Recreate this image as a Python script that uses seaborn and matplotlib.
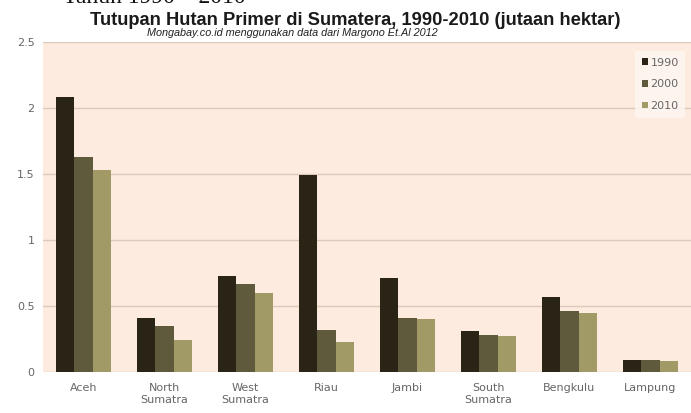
import matplotlib
matplotlib.use("Agg")
import matplotlib.pyplot as plt
import seaborn as sns
import pandas as pd

provinces = ["Aceh", "North\nSumatra", "West\nSumatra", "Riau", "Jambi",
             "South\nSumatra", "Bengkulu", "Lampung"]
years = ["1990", "2000", "2010"]
v1990 = [2.08, 0.41, 0.73, 1.49, 0.71, 0.31, 0.57, 0.09]
v2000 = [1.63, 0.35, 0.67, 0.32, 0.41, 0.28, 0.46, 0.09]
v2010 = [1.53, 0.24, 0.60, 0.23, 0.40, 0.27, 0.45, 0.08]
yticks = [0, 0.5, 1, 1.5, 2, 2.5]
ytick_labels = ["0", "0.5", "1", "1.5", "2", "2.5"]

rows = []
for yr, vals in zip(years, [v1990, v2000, v2010]):
    for p, v in zip(provinces, vals):
        rows.append({"prov": p, "year": yr, "val": v})
df = pd.DataFrame(rows)

sns.set_theme(style="white")
plt.rcParams['font.family'] = ['Liberation Sans', 'DejaVu Sans']

fig = plt.figure(figsize=(6.91, 4.13), dpi=100)
ax = fig.add_axes([43/691, 1-372/413, 1-43/691, (372-42)/413])
ax.set_facecolor("#fdebdf")

palette = ["#2a2416", "#5e5a3b", "#a29a66"]
sns.barplot(data=df, x="prov", y="val", hue="year", order=provinces,
            hue_order=years, palette=palette, width=0.67, gap=0,
            saturation=1, linewidth=0, ax=ax, zorder=3)

ax.set_ylim(0, 2.5)
ax.set_xlim(-0.5, 7.5)
ax.set_yticks(yticks)
ax.set_yticklabels(ytick_labels)
ax.yaxis.grid(True, color="#dcc9bb", linewidth=1.0, zorder=0)
ax.set_axisbelow(True)
ax.set_xlabel("")
ax.set_ylabel("")
for s in ax.spines.values():
    s.set_visible(False)
ax.tick_params(axis="both", length=0, labelsize=8, colors="#666666")
for lbl in ax.get_xticklabels():
    lbl.set_fontfamily("DejaVu Sans")
    lbl.set_linespacing(1.2)
for lbl in ax.get_yticklabels():
    lbl.set_fontfamily("DejaVu Sans")
ax.tick_params(axis="y", pad=6)
ax.tick_params(axis="x", pad=8)

leg = ax.legend(loc="upper right", bbox_to_anchor=(1.0, 0.99), frameon=True,
                handlelength=0.55, handleheight=0.55,
                handletextpad=0.25, labelspacing=1.05, borderpad=0.6,
                prop={"family": "DejaVu Sans", "size": 8})
leg.get_frame().set_facecolor("#fdf7f3")
leg.get_frame().set_edgecolor("none")
for t in leg.get_texts():
    t.set_color("#666666")

fig.text(355/691, 1-25/413, "Tutupan Hutan Primer di Sumatera, 1990-2010 (jutaan hektar)",
         ha="center", va="baseline", fontsize=13.2, fontweight="bold", color="#1a1a1a")
fig.text(292/691, 1-36/413, "Mongabay.co.id menggunakan data dari Margono Et.Al 2012",
         ha="center", va="baseline", fontsize=7.8, style="italic", color="#222222")
fig.text(63/691, 1-3/413, "Tahun 1990 \u2013 2010", ha="left", va="baseline",
         fontsize=17, family="Liberation Serif", color="#111111")

fig.savefig("out.png", dpi=100)
